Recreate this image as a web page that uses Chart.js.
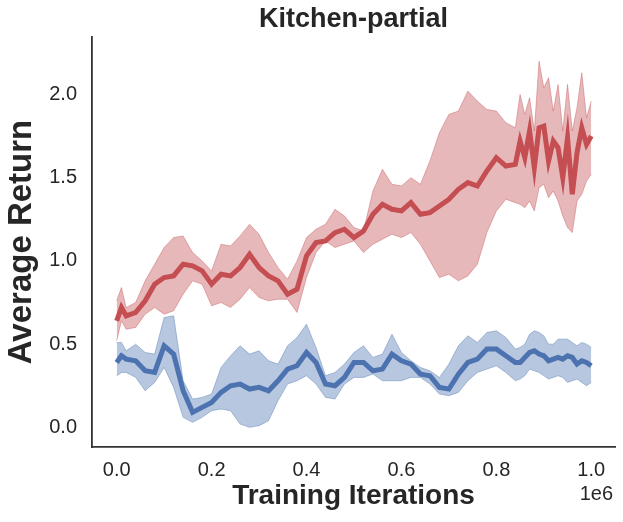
<!DOCTYPE html>
<html>
<head>
<meta charset="utf-8">
<title>Kitchen-partial</title>
<script src="https://cdn.jsdelivr.net/npm/chart.js@4.4.1/dist/chart.umd.min.js"></script>
<style>
  html, body { margin: 0; padding: 0; background: #fff; }
  #wrap { width: 623px; height: 522px; }
</style>
</head>
<body>
<div id="wrap"><canvas id="chart"></canvas></div>
<script>
// training iterations, in units of 1e6
const iterations = [0.00, 0.01, 0.02, 0.04, 0.06, 0.08, 0.10, 0.12, 0.14, 0.16, 0.18, 0.20, 0.22, 0.24, 0.26, 0.28,
  0.30, 0.32, 0.34, 0.36, 0.38, 0.40, 0.42, 0.44, 0.46, 0.48, 0.50, 0.52, 0.54, 0.56, 0.58, 0.60, 0.62, 0.64,
  0.66, 0.68, 0.70, 0.72, 0.74, 0.76, 0.78, 0.80, 0.82, 0.84, 0.85, 0.86, 0.87, 0.88, 0.89, 0.90, 0.91, 0.92,
  0.93, 0.94, 0.95, 0.96, 0.97, 0.98, 0.99, 1.00];

// red run: mean and shaded band
const redMean = [0.64, 0.72, 0.67, 0.69, 0.76, 0.86, 0.90, 0.91, 0.98, 0.97, 0.94, 0.86, 0.92, 0.91, 0.96, 1.04,
  0.96, 0.91, 0.88, 0.80, 0.83, 1.03, 1.11, 1.12, 1.17, 1.19, 1.14, 1.18, 1.28, 1.34, 1.31, 1.30, 1.35, 1.28,
  1.29, 1.33, 1.37, 1.43, 1.47, 1.45, 1.54, 1.62, 1.57, 1.58, 1.72, 1.62, 1.78, 1.56, 1.80, 1.81, 1.60, 1.72,
  1.68, 1.50, 1.74, 1.40, 1.65, 1.80, 1.70, 1.75];
const redUpper = [0.76, 0.84, 0.72, 0.75, 0.88, 0.98, 1.08, 1.14, 1.15, 1.05, 1.00, 0.94, 1.10, 1.09, 1.15, 1.22,
  1.16, 1.05, 0.96, 0.89, 1.00, 1.14, 1.19, 1.22, 1.31, 1.27, 1.20, 1.18, 1.42, 1.55, 1.46, 1.45, 1.50, 1.46,
  1.60, 1.77, 1.88, 1.90, 2.02, 1.96, 1.91, 1.90, 1.83, 1.80, 2.00, 1.88, 1.98, 1.78, 2.20, 2.04, 2.10, 1.90,
  2.06, 1.78, 2.06, 1.78, 1.92, 2.13, 1.86, 1.96];
const redLower = [0.52, 0.64, 0.59, 0.60, 0.68, 0.72, 0.68, 0.70, 0.80, 0.88, 0.86, 0.73, 0.75, 0.72, 0.77, 0.84,
  0.78, 0.76, 0.77, 0.77, 0.69, 0.90, 1.05, 1.12, 1.08, 1.10, 1.12, 1.05, 1.10, 1.13, 1.16, 1.14, 1.17, 1.10,
  1.00, 0.90, 0.92, 0.88, 0.91, 0.98, 1.17, 1.30, 1.37, 1.35, 1.34, 1.32, 1.36, 1.30, 1.44, 1.46, 1.38, 1.42,
  1.36, 1.27, 1.20, 1.17, 1.36, 1.40, 1.48, 1.52];

// blue run: mean and shaded band
const blueMean = [0.39, 0.43, 0.41, 0.40, 0.34, 0.33, 0.49, 0.44, 0.22, 0.09, 0.12, 0.15, 0.21, 0.25, 0.26, 0.23,
  0.24, 0.22, 0.28, 0.35, 0.37, 0.45, 0.39, 0.26, 0.25, 0.30, 0.39, 0.39, 0.34, 0.35, 0.44, 0.40, 0.38, 0.32,
  0.31, 0.24, 0.23, 0.32, 0.39, 0.41, 0.47, 0.47, 0.43, 0.39, 0.39, 0.42, 0.45, 0.46, 0.44, 0.43, 0.40, 0.41,
  0.42, 0.41, 0.43, 0.42, 0.38, 0.40, 0.39, 0.37];
const blueUpper = [0.51, 0.51, 0.46, 0.50, 0.45, 0.44, 0.66, 0.67, 0.28, 0.17, 0.18, 0.20, 0.36, 0.43, 0.49, 0.44,
  0.46, 0.40, 0.38, 0.49, 0.54, 0.62, 0.48, 0.31, 0.33, 0.38, 0.45, 0.49, 0.42, 0.44, 0.56, 0.45, 0.40, 0.36,
  0.34, 0.30, 0.38, 0.49, 0.55, 0.51, 0.57, 0.58, 0.54, 0.47, 0.48, 0.50, 0.56, 0.58, 0.57, 0.55, 0.50, 0.50,
  0.53, 0.53, 0.53, 0.51, 0.49, 0.51, 0.50, 0.48];
const blueLower = [0.31, 0.33, 0.33, 0.30, 0.22, 0.27, 0.36, 0.24, 0.06, 0.03, 0.06, 0.10, 0.11, 0.10, 0.02, 0.00,
  0.01, 0.04, 0.16, 0.26, 0.28, 0.31, 0.26, 0.18, 0.17, 0.26, 0.30, 0.30, 0.32, 0.28, 0.28, 0.28, 0.30, 0.30,
  0.26, 0.20, 0.19, 0.21, 0.28, 0.33, 0.35, 0.37, 0.33, 0.28, 0.29, 0.31, 0.35, 0.34, 0.33, 0.31, 0.29, 0.30,
  0.31, 0.30, 0.27, 0.28, 0.29, 0.27, 0.25, 0.27];

const RED = '#C44E52';
const RED_BAND = 'rgba(196, 78, 82, 0.4)';
const BLUE = '#4C72B0';
const BLUE_BAND = 'rgba(76, 114, 176, 0.4)';
const INK = '#262626';
const FONT = "'Liberation Sans', Arial, sans-serif";

function points(ys) {
  return ys.map((y, i) => ({ x: iterations[i], y: y }));
}

function band(ys, color, order) {
  return {
    data: points(ys),
    borderColor: color,
    borderWidth: 1,
    backgroundColor: color,
    pointRadius: 0,
    tension: 0,
    order: order
  };
}

// title centred over the plot area (not the whole canvas) and the
// "1e6" scale factor that matplotlib puts under the right end of the x axis
const axesText = {
  id: 'axesText',
  afterDraw(chart) {
    const ctx = chart.ctx;
    const area = chart.chartArea;
    ctx.save();
    ctx.fillStyle = INK;
    ctx.textBaseline = 'middle';
    ctx.textAlign = 'center';
    ctx.font = 'bold 27px ' + FONT;
    ctx.fillText('Kitchen-partial', (area.left + area.right) / 2, 20);
    ctx.textAlign = 'right';
    ctx.font = '20px ' + FONT;
    ctx.fillText('1e6', area.right - 2, area.bottom + 47);
    ctx.restore();
  }
};

new Chart(document.getElementById('chart'), {
  type: 'line',
  data: {
    datasets: [
      Object.assign(band(redUpper, RED_BAND, 5), { fill: '+1' }),
      Object.assign(band(redLower, RED_BAND, 4), { fill: false }),
      { data: points(redMean), borderColor: RED, borderWidth: 5, pointRadius: 0, fill: false, order: 3 },
      Object.assign(band(blueUpper, BLUE_BAND, 2), { fill: '+1' }),
      Object.assign(band(blueLower, BLUE_BAND, 1), { fill: false }),
      { data: points(blueMean), borderColor: BLUE, borderWidth: 5, pointRadius: 0, fill: false, order: 0 }
    ]
  },
  options: {
    responsive: true,
    maintainAspectRatio: false,
    animation: false,
    events: [],
    layout: { padding: { left: 0, right: 8, top: 37, bottom: 0 } },
    scales: {
      x: {
        type: 'linear',
        min: -0.052,
        max: 1.05,
        afterFit: function(scale) { scale.height = 75; },
        grid: { display: false, drawTicks: false },
        border: { display: true, color: '#333333', width: 1.8 },
        ticks: {
          stepSize: 0.2,
          includeBounds: false,
          padding: 11,
          color: INK,
          font: { family: FONT, size: 20 },
          callback: v => v.toFixed(1)
        },
        title: {
          display: true,
          text: 'Training Iterations',
          color: INK,
          font: { family: FONT, size: 28, weight: 'bold' },
          padding: { top: 0, bottom: 9 }
        }
      },
      y: {
        type: 'linear',
        min: -0.118,
        max: 2.345,
        afterFit: function(scale) { scale.width = 92; },
        grid: { display: false, drawTicks: false },
        border: { display: true, color: '#333333', width: 1.8 },
        ticks: {
          stepSize: 0.5,
          includeBounds: false,
          padding: 15,
          color: INK,
          font: { family: FONT, size: 20 },
          callback: v => v.toFixed(1)
        },
        title: {
          display: true,
          text: 'Average Return',
          color: INK,
          font: { family: FONT, size: 33, weight: 'bold' },
          padding: { top: 2, bottom: 0 }
        }
      }
    },
    plugins: {
      legend: { display: false },
      tooltip: { enabled: false },
      title: { display: false }
    }
  },
  plugins: [axesText]
});
</script>
</body>
</html>
